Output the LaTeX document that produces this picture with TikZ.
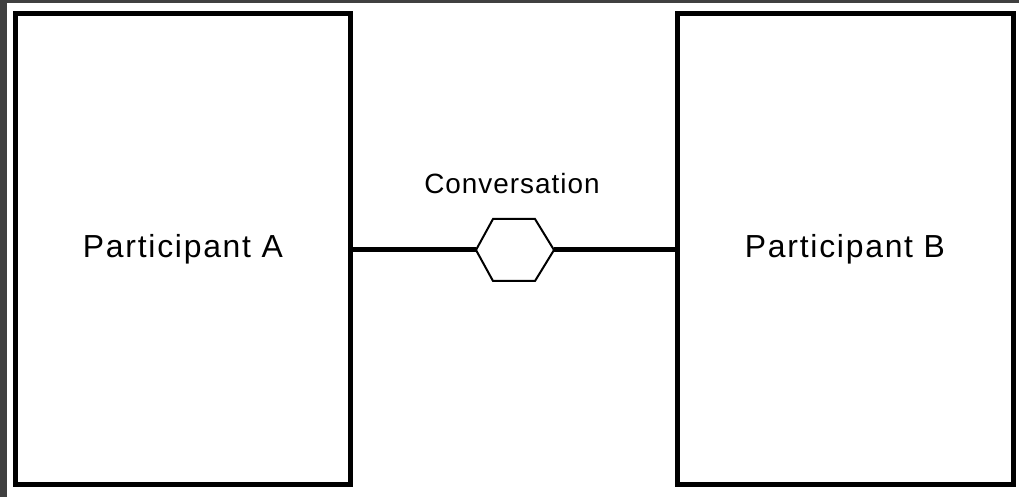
\documentclass[tikz,border=0pt]{standalone}
\usepackage{fontspec}
\setmainfont{Liberation Sans}
\newfontfamily\partfont[LetterSpace=5.5]{Liberation Sans}
\newfontfamily\convfont[LetterSpace=3.6]{Liberation Sans}
\definecolor{framegray}{HTML}{404040}
\begin{document}
\begin{tikzpicture}[x=1bp,y=-1bp,
  participant/.style={draw=black,line width=5bp,fill=white,inner sep=0pt,outer sep=0pt,
    font=\partfont\fontsize{32}{36}\selectfont},
  convbox/.style={draw=none,inner sep=0pt,outer sep=0pt,minimum width=78bp,minimum height=62bp},
  hexline/.style={draw=black,line width=2bp,line join=miter},
  link/.style={draw=black,line width=5bp},
  convtext/.style={font=\convfont\fontsize{28}{32}\selectfont,inner sep=0pt}]
\useasboundingbox (0,0) rectangle (1019,497);
\fill[framegray] (0,0) rectangle (1019,497);
\fill[white] (7,3) rectangle (1019,497);
\node[participant,minimum width=334bp,minimum height=470bp] (A) at (183,249) {Participant A};
\node[participant,minimum width=336bp,minimum height=470bp] (B) at (845,249) {Participant B};
\node[convbox] (c) at (515,250) {};
\draw[hexline] (c.west) -- ([xshift=17bp]c.north west) -- ([xshift=-19bp]c.north east)
  -- (c.east) -- ([xshift=-19bp]c.south east) -- ([xshift=17bp]c.south west) -- cycle;
\node[convtext] (clabel) at (512,184) {Conversation};
\draw[link] (A.east |- c.west) -- (c.west);
\draw[link] (c.east) -- (c.east -| B.west);
\end{tikzpicture}
\end{document}
